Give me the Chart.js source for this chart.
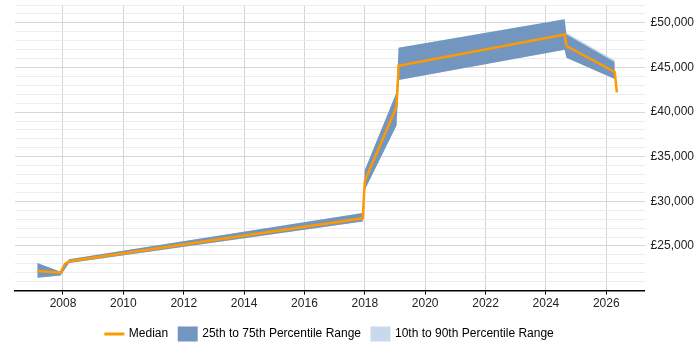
<!DOCTYPE html>
<html>
<head>
<meta charset="utf-8">
<script src="https://cdn.jsdelivr.net/npm/chart.js@4/dist/chart.umd.min.js"></script>
<style>
    html, body { margin: 0; padding: 0; background: #fff; }
    #wrap { width: 700px; height: 350px; position: relative; }
</style>
</head>
<body>
<div id="wrap"><canvas id="salary-chart"></canvas></div>
<script>
// Median salary trend with percentile bands

const medianYears  = [2007.15, 2007.92, 2007.97, 2008.07, 2008.2, 2017.93, 2018.0, 2019.05, 2019.12, 2024.62, 2024.68, 2026.28, 2026.35];
const medianValues = [22200, 22000, 22400, 23000, 23300, 28100, 32300, 40600, 45200, 48700, 47400, 44500, 42200];

const bandYears = [2007.15, 2007.92, 2008.2, 2017.93, 2018.0, 2019.05, 2019.12, 2024.62, 2024.68, 2026.28];
const q75Values = [23100, 22100, 23500, 28700, 33500, 42200, 47200, 50400, 48700, 45600];
const q25Values = [21450, 21700, 23100, 27750, 31300, 38500, 43600, 47000, 46100, 43700];
const p90Values = [23100, 22100, 23500, 28700, 33500, 42200, 47200, 50400, 48900, 45800];
const p10Values = [21450, 21700, 23100, 27750, 31300, 38500, 43600, 47000, 46100, 43700];

const yearTicks = [2008, 2010, 2012, 2014, 2016, 2018, 2020, 2022, 2024, 2026];
const salaryLabels = [25000, 30000, 35000, 40000, 45000, 50000];

const MEDIAN_COLOR = '#FF9900';
const IQR_COLOR = '#7396C0';
const WIDE_COLOR = '#C8D9EE';

function toPoints(xs, ys) {
    return xs.map((x, i) => ({ x: x, y: ys[i] }));
}

function bandDataset(label, values, color, fill) {
    return {
        label: label,
        data: toPoints(bandYears, values),
        borderWidth: 0,
        borderColor: color,
        backgroundColor: color,
        pointRadius: 0,
        fill: fill,
        tension: 0
    };
}

// centre the legend under the plot area rather than the whole canvas
const legendUnderPlot = {
    id: 'legendUnderPlot',
    afterLayout(chart) {
        const lg = chart.legend;
        const area = chart.chartArea;
        lg.left = area.left;
        lg.right = area.right;
        lg.width = area.right - area.left;
    }
};

function initChart() {
    Chart.defaults.font.family = "'Liberation Sans', Arial, sans-serif";
    Chart.defaults.font.size = 12;
    Chart.defaults.color = '#222';

    new Chart(document.getElementById('salary-chart'), {
        type: 'line',
        data: {
            datasets: [
                {
                    label: 'Median',
                    data: toPoints(medianYears, medianValues),
                    borderColor: MEDIAN_COLOR,
                    backgroundColor: MEDIAN_COLOR,
                    borderWidth: 2.5,
                    pointRadius: 0,
                    fill: false,
                    tension: 0
                },
                bandDataset('25th to 75th Percentile Range', q75Values, IQR_COLOR, '+1'),
                bandDataset('q25', q25Values, IQR_COLOR, false),
                bandDataset('10th to 90th Percentile Range', p90Values, WIDE_COLOR, '+1'),
                bandDataset('p10', p10Values, WIDE_COLOR, false)
            ]
        },
        plugins: [legendUnderPlot],
        options: {
            responsive: true,
            maintainAspectRatio: false,
            animation: false,
            layout: { padding: { left: 15, right: 0, top: 5, bottom: 0 } },
            plugins: {
                tooltip: { enabled: false },
                legend: {
                    position: 'bottom',
                    labels: {
                        usePointStyle: true,
                        pointStyleWidth: 17,
                        padding: 11,
                        color: '#222',
                        generateLabels: function() {
                            return [
                                { text: 'Median', pointStyle: 'line', strokeStyle: MEDIAN_COLOR, fillStyle: MEDIAN_COLOR, lineWidth: 3, lineCap: 'square', datasetIndex: 0 },
                                { text: '25th to 75th Percentile Range', pointStyle: 'rect', strokeStyle: IQR_COLOR, fillStyle: IQR_COLOR, lineWidth: 3, datasetIndex: 1 },
                                { text: '10th to 90th Percentile Range', pointStyle: 'rect', strokeStyle: WIDE_COLOR, fillStyle: WIDE_COLOR, lineWidth: 3, datasetIndex: 3 }
                            ];
                        }
                    }
                }
            },
            scales: {
                x: {
                    type: 'linear',
                    min: 2006.41,
                    max: 2027.27,
                    afterBuildTicks: function(axis) {
                        axis.ticks = yearTicks.map(v => ({ value: v }));
                    },
                    afterFit: function(axis) {
                        axis.height += 4;
                    },
                    ticks: {
                        autoSkip: false,
                        maxRotation: 0,
                        padding: 2,
                        callback: v => String(v)
                    },
                    grid: {
                        color: '#d6d6d6',
                        tickColor: '#000',
                        tickLength: 4
                    },
                    border: { color: '#000', width: 1.5 }
                },
                y: {
                    position: 'right',
                    min: 20000,
                    max: 52000,
                    afterFit: function(axis) {
                        axis.paddingTop = 0;
                        axis.paddingBottom = 0;
                    },
                    ticks: {
                        stepSize: 1000,
                        autoSkip: false,
                        padding: 6,
                        callback: v => salaryLabels.includes(v) ? '£' + v.toLocaleString('en-GB') : ''
                    },
                    grid: {
                        drawTicks: false,
                        color: ctx => (ctx.tick && ctx.tick.value % 5000 === 0) ? '#d6d6d6' : '#ececec'
                    },
                    border: { display: false }
                }
            }
        }
    });
}

initChart();
</script>
</body>
</html>
